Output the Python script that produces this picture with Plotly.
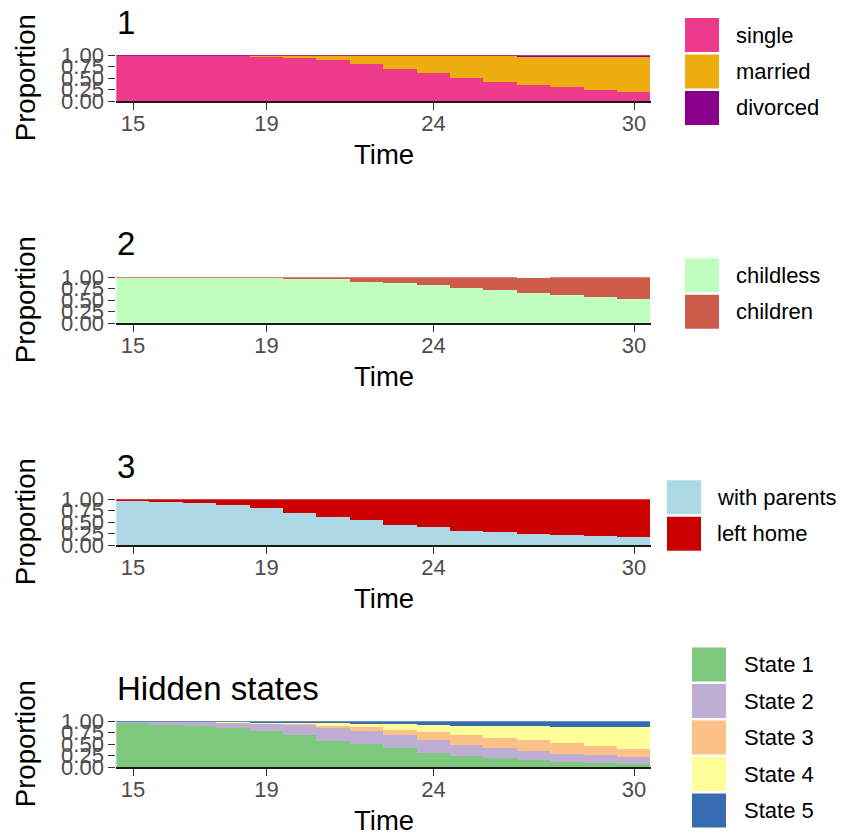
import plotly.graph_objects as go

# ---------------- data ----------------
time = list(range(15, 31))

# Channel 1: marital status
single   = [0.996, 0.996, 0.996, 0.996, 0.97, 0.927, 0.883, 0.796, 0.70, 0.613, 0.504, 0.416, 0.35, 0.307, 0.24, 0.197]
married  = [0.000, 0.000, 0.000, 0.000, 0.022, 0.065, 0.109, 0.196, 0.292, 0.379, 0.488, 0.576, 0.625, 0.668, 0.735, 0.778]
divorced = [0.004, 0.004, 0.004, 0.004, 0.008, 0.008, 0.008, 0.008, 0.008, 0.008, 0.008, 0.008, 0.025, 0.025, 0.025, 0.025]

# Channel 2: children
childless = [0.993, 0.993, 0.993, 0.993, 0.993, 0.97, 0.95, 0.90, 0.876, 0.832, 0.766, 0.723, 0.657, 0.613, 0.569, 0.526]
children  = [0.007, 0.007, 0.007, 0.007, 0.007, 0.03, 0.05, 0.10, 0.124, 0.168, 0.234, 0.277, 0.328, 0.387, 0.431, 0.474]

# Channel 3: residence
with_parents = [0.964, 0.942, 0.913, 0.87, 0.81, 0.70, 0.616, 0.53, 0.44, 0.377, 0.31, 0.27, 0.225, 0.203, 0.18, 0.16]
left_home    = [0.020, 0.058, 0.087, 0.13, 0.19, 0.30, 0.384, 0.47, 0.56, 0.623, 0.69, 0.73, 0.775, 0.797, 0.82, 0.84]

# Hidden states
state1 = [0.957, 0.92, 0.899, 0.855, 0.79, 0.688, 0.572, 0.486, 0.40, 0.31, 0.225, 0.18, 0.138, 0.094, 0.072, 0.05]
state2 = [0.030, 0.065, 0.086, 0.105, 0.152, 0.232, 0.283, 0.304, 0.283, 0.283, 0.26, 0.24, 0.196, 0.174, 0.174, 0.152]
state3 = [0.000, 0.000, 0.000, 0.005, 0.010, 0.015, 0.030, 0.070, 0.130, 0.174, 0.217, 0.217, 0.24, 0.24, 0.217, 0.196]
state4 = [0.000, 0.000, 0.000, 0.020, 0.018, 0.025, 0.080, 0.085, 0.130, 0.152, 0.196, 0.26, 0.326, 0.37, 0.413, 0.478]
state5 = [0.013, 0.015, 0.015, 0.015, 0.030, 0.040, 0.035, 0.055, 0.057, 0.081, 0.102, 0.103, 0.10, 0.122, 0.124, 0.124]

panel_titles = ["1", "2", "3", "Hidden states"]
panels = [
    (["single", "married", "divorced"], [single, married, divorced], ["#EE3A8C", "#EEAD0E", "#8B008B"]),
    (["childless", "children"], [childless, children], ["#C1FFC1", "#CD5C4A"]),
    (["with parents", "left home"], [with_parents, left_home], ["#ADD8E6", "#CD0000"]),
    (["State 1", "State 2", "State 3", "State 4", "State 5"],
     [state1, state2, state3, state4, state5],
     ["#7FC97F", "#BEAED4", "#FDC086", "#FFFF99", "#386CB0"]),
]

x_ticks = [15, 19, 24, 30]
y_ticks = [0, 0.25, 0.5, 0.75, 1.0]
y_ticktext = ["0.00", "0.25", "0.50", "0.75", "1.00"]

# ---------------- layout geometry (pixels) ----------------
W, H = 844, 835
FONT = "Liberation Sans, Arial, sans-serif"
PITCH = 222.0
PLOT_L, PLOT_R = 116.3, 650.7
PLOT_T0, PLOT_B0 = 55.3, 101.0
legend_key_x = [685, 685, 667, 692]
legend_lab_x = [734, 734, 715, 742]
LEG_CENTER0 = 71.5
KEY = 34
KEY_PITCH = 36.5


def px(x):
    return x / W


def py(y):
    return 1 - y / H


fig = go.Figure()
layout = dict(
    template="none",
    width=W, height=H, autosize=False,
    margin=dict(l=0, r=0, t=0, b=0, pad=0, autoexpand=False),
    paper_bgcolor="white", plot_bgcolor="white",
    barmode="stack", bargap=0,
    showlegend=False,
    font=dict(family=FONT),
)
annotations = []
shapes = []

for i, (names, series, colors) in enumerate(panels):
    off = i * PITCH
    xa = "x" if i == 0 else f"x{i+1}"
    ya = "y" if i == 0 else f"y{i+1}"
    xkey = "xaxis" if i == 0 else f"xaxis{i+1}"
    ykey = "yaxis" if i == 0 else f"yaxis{i+1}"
    for name, vals, col in zip(names, series, colors):
        fig.add_trace(go.Bar(
            x=time, y=vals, name=name, width=1.0,
            marker=dict(color=col, line=dict(width=0)),
            xaxis=xa, yaxis=ya,
        ))
    top = PLOT_T0 + off
    bot = PLOT_B0 + off
    layout[xkey] = dict(
        domain=[px(PLOT_L), px(PLOT_R)], anchor=ya, range=[14.5, 30.5],
        automargin=False,
        tickmode="array", tickvals=x_ticks, ticktext=[str(t) for t in x_ticks],
        ticks="outside", ticklen=7, tickwidth=1.4, tickcolor="#333333",
        ticklabelstandoff=-5,
        showline=True, linecolor="#1a1a1a", linewidth=1.6,
        showgrid=False, zeroline=False,
        tickfont=dict(size=22, color="#4D4D4D", family=FONT),
        fixedrange=True,
    )
    layout[ykey] = dict(
        domain=[py(bot), py(top)], anchor=xa, range=[0, 1],
        automargin=False,
        tickmode="array", tickvals=y_ticks, ticktext=y_ticktext,
        ticks="outside", ticklen=7, tickwidth=1.4, tickcolor="#333333",
        showline=False, showgrid=False, zeroline=False,
        tickfont=dict(size=22, color="#4D4D4D", family=FONT),
        fixedrange=True,
    )
    # panel title
    annotations.append(dict(
        text=panel_titles[i], xref="paper", yref="paper",
        x=px(PLOT_L - 1), y=py(22 + off), xanchor="left", yanchor="middle",
        showarrow=False, font=dict(size=33, color="black", family=FONT),
    ))
    # x axis title
    annotations.append(dict(
        text="Time", xref="paper", yref="paper",
        x=px((PLOT_L + PLOT_R) / 2), y=py(154 + off), xanchor="center", yanchor="middle",
        showarrow=False, font=dict(size=27.5, color="black", family=FONT),
    ))
    # y axis title
    annotations.append(dict(
        text="Proportion", xref="paper", yref="paper", textangle=-90,
        x=px(25), y=py((top + bot) / 2), xanchor="center", yanchor="middle",
        showarrow=False, font=dict(size=27.5, color="black", family=FONT),
    ))
    # legend (large ggplot-style keys)
    n = len(names)
    center = LEG_CENTER0 + off
    start = center - (n * KEY_PITCH - (KEY_PITCH - KEY)) / 2
    for j, (name, col) in enumerate(zip(names, colors)):
        y0 = start + j * KEY_PITCH
        shapes.append(dict(
            type="rect", xref="paper", yref="paper",
            x0=px(legend_key_x[i]), x1=px(legend_key_x[i] + KEY),
            y0=py(y0 + KEY), y1=py(y0),
            fillcolor=col, line=dict(width=0),
        ))
        annotations.append(dict(
            text=name, xref="paper", yref="paper",
            x=px(legend_lab_x[i]), y=py(y0 + KEY / 2), xanchor="left", yanchor="middle",
            showarrow=False, font=dict(size=22, color="black", family=FONT),
        ))

layout["annotations"] = annotations
layout["shapes"] = shapes
fig.update_layout(**layout)
fig.write_html(
    "out.html",
    config={"responsive": False, "displayModeBar": False},
    post_script="document.body.style.margin='0px'; document.body.style.overflow='hidden';",
)
